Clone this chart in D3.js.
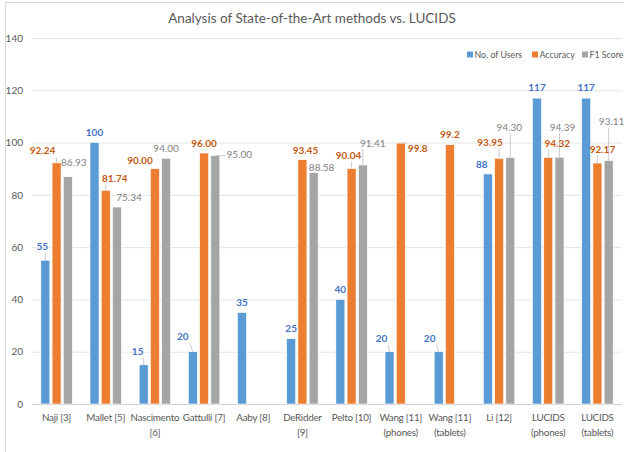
<!DOCTYPE html>
<html>
<head>
<meta charset="utf-8">
<script src="https://cdnjs.cloudflare.com/ajax/libs/d3/7.8.5/d3.min.js"></script>
<style>
  body { margin: 0; background: #fff; }
  text { font-family: Lato, "Open Sans", sans-serif; }
</style>
</head>
<body>
<svg width="624" height="452"></svg>
<script>
// data
var categories = ["Naji [3]", "Mallet [5]", "Nascimento [6]", "Gattulli [7]", "Aaby [8]", "DeRidder [9]",
                  "Pelto [10]", "Wang [11] (phones)", "Wang [11] (tablets)", "Li [12]", "LUCIDS (phones)", "LUCIDS (tablets)"];
var catLines = [["Naji [3]"], ["Mallet [5]"], ["Nascimento", "[6]"], ["Gattulli [7]"], ["Aaby [8]"], ["DeRidder", "[9]"],
                ["Pelto [10]"], ["Wang [11]", "(phones)"], ["Wang [11]", "(tablets)"], ["Li [12]"], ["LUCIDS", "(phones)"], ["LUCIDS", "(tablets)"]];
var seriesNames = ["No. of Users", "Accuracy", "F1 Score"];
var users    = [55, 100, 15, 20, 35, 25, 40, 20, 20, 88, 117, 117];
var accuracy = [92.24, 81.74, 90.00, 96.00, null, 93.45, 90.04, 99.8, 99.2, 93.95, 94.32, 92.17];
var f1       = [86.93, 75.34, 94.00, 95.00, null, 88.58, 91.41, null, null, 94.30, 94.39, 93.11];
var labelText = [
  ["55", "100", "15", "20", "35", "25", "40", "20", "20", "88", "117", "117"],
  ["92.24", "81.74", "90.00", "96.00", "", "93.45", "90.04", "99.8", "99.2", "93.95", "94.32", "92.17"],
  ["86.93", "75.34", "94.00", "95.00", "", "88.58", "91.41", "", "", "94.30", "94.39", "93.11"]
];
var yTicks = [0, 20, 40, 60, 80, 100, 120, 140];

var colors = ["#5B9BD5", "#ED7D31", "#A5A5A5"];
var labelColors = ["#4472C4", "#C55A11", "#7F7F7F"];

// label nudges [dx, dy, leader] relative to the top of each bar (like the dragged labels in the original)
var nudges = [
  [[-3,-14,1],[0,-10],[-6,-13,1],[-10,-15,1],[0,-10],[0,-10],[0,-10],[-8,-13,1],[-9,-13,1],[-6,-9],[0,-11],[0,-11]],
  [[-14,-12,1],[9,-12,1],[-15,-8],[0,-10],null,[3,-9],[-3,-13,1],[17,5,1],[0,-10],[-9,-16,1],[9,-14,1],[5,-14,1]],
  [[6,-14],[12,-10],[0,-10],[24,-1,1],null,[8,-5],[10,-22,1],null,null,[-1,-30,1],[3,-30,1],[3,-39,1]]
];

var svg = d3.select("svg");

var x0 = d3.scaleBand().domain(categories).range([32, 622]).paddingInner(0.36).paddingOuter(0.18);
var x1 = d3.scaleBand().domain(seriesNames).range([0, x0.bandwidth()]).paddingInner(0.2);
var y = d3.scaleLinear().domain([0, 140]).range([404, 38]);

// chart border
svg.append("rect")
    .attr("x", 5.5).attr("y", 2.5).attr("width", 640).attr("height", 470)
    .attr("fill", "none").attr("stroke", "#D9D9D9");

svg.append("text")
    .attr("x", 312).attr("y", 23)
    .attr("text-anchor", "middle")
    .attr("font-size", 13.5)
    .attr("fill", "#595959")
    .text("Analysis of State-of-the-Art methods vs. LUCIDS");

// gridlines + y labels
var yAxis = svg.append("g")
    .attr("transform", "translate(32,0)")
    .call(d3.axisLeft(y).tickValues(yTicks).tickSize(-590).tickPadding(9));
yAxis.select(".domain").remove();
yAxis.selectAll(".tick line").attr("stroke", function(d) { return d === 0 ? "#D0D0D0" : "#E4E4E4"; });
yAxis.selectAll(".tick text").attr("fill", "#595959").attr("font-size", 10)
    .style("font-family", "Lato, sans-serif");

// category labels
var xAxis = svg.append("g");
catLines.forEach(function(lines, i) {
  var t = xAxis.append("text")
      .attr("x", x0(categories[i]) + x0.bandwidth() / 2)
      .attr("y", 421)
      .attr("text-anchor", "middle")
      .attr("font-size", 9.8)
      .attr("letter-spacing", -0.25)
      .attr("fill", "#595959");
  lines.forEach(function(l, k) {
    t.append("tspan").attr("x", x0(categories[i]) + x0.bandwidth() / 2).attr("dy", k ? 14.5 : 0).text(l);
  });
});

var allSeries = [users, accuracy, f1];
var points = [];
allSeries.forEach(function(vals, s) {
  vals.forEach(function(v, i) {
    if (v === null) return;
    points.push({s: s, i: i, v: v});
  });
});

svg.append("g").selectAll("rect")
  .data(points)
  .enter().append("rect")
    .attr("x", function(d) { return x0(categories[d.i]) + x1(seriesNames[d.s]); })
    .attr("y", function(d) { return y(d.v); })
    .attr("width", x1.bandwidth())
    .attr("height", function(d) { return y(0) - y(d.v); })
    .attr("fill", function(d) { return colors[d.s]; })
    .attr("stroke", "#fff")
    .attr("stroke-width", 0.6);

// data labels with leader lines
var lbl = svg.append("g");
points.forEach(function(d) {
  var n = nudges[d.s][d.i] || [0, -10];
  var bx = x0(categories[d.i]) + x1(seriesNames[d.s]) + x1.bandwidth() / 2;
  var by = y(d.v);
  var cx = bx + n[0], cy = by + n[1];
  var t = lbl.append("text")
      .attr("x", cx).attr("y", cy + 3.5)
      .attr("text-anchor", "middle")
      .attr("font-size", 10)
      .attr("font-weight", d.s < 2 ? "bold" : "normal")
      .attr("fill", labelColors[d.s])
      .text(labelText[d.s][d.i]);
  if (n[2]) {
    var w = t.node().getComputedTextLength() / 2 + 1;
    var px = Math.max(cx - w, Math.min(bx, cx + w));
    var py = Math.max(cy - 6, Math.min(by, cy + 6));
    lbl.insert("line", "text")
        .attr("x1", bx).attr("y1", by)
        .attr("x2", px).attr("y2", py)
        .attr("stroke", "#BFBFBF").attr("stroke-width", 0.8);
  }
});

// legend
var legendX = [471, 536, 586];
var legend = svg.append("g");
seriesNames.forEach(function(name, s) {
  legend.append("rect").attr("x", legendX[s] - 4).attr("y", 51.5).attr("width", 6).attr("height", 6).attr("fill", colors[s]);
  legend.append("text").attr("x", legendX[s] + 3.5).attr("y", 58)
      .attr("font-size", 8.8).attr("fill", "#595959").text(name);
});
</script>
</body>
</html>
